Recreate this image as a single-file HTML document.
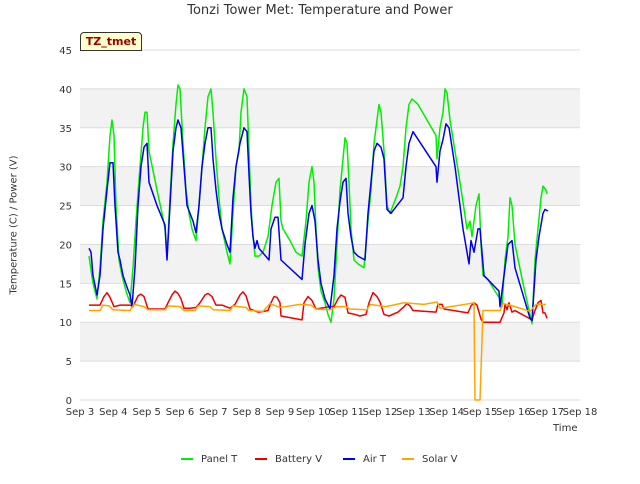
<!DOCTYPE html>
<html><head><meta charset="utf-8"><style>
body{margin:0;background:#fff;font-family:"DejaVu Sans",sans-serif}
</style></head><body>
<svg id="c" width="640" height="480" xmlns="http://www.w3.org/2000/svg" font-family="DejaVu Sans, sans-serif"></svg>
<script>
const xTicks=["Sep 3","Sep 4","Sep 5","Sep 6","Sep 7","Sep 8","Sep 9","Sep 10","Sep 11","Sep 12","Sep 13","Sep 14","Sep 15","Sep 16","Sep 17","Sep 18"];
const yTicks=[0,5,10,15,20,25,30,35,40,45];
const panelT_t=[.27,.39,.51,.6,.69,.81,.9,.96,1.02,1.08,1.17,1.26,1.38,1.5,1.59,1.68,1.8,1.89,1.95,2.01,2.07,2.31,2.46,2.55,2.61,2.7,2.79,2.88,2.94,3.0,3.09,3.18,3.27,3.36,3.48,3.57,3.66,3.75,3.84,3.93,3.99,4.08,4.17,4.26,4.41,4.5,4.59,4.68,4.77,4.83,4.92,5.01,5.07,5.13,5.19,5.25,5.37,5.49,5.64,5.76,5.88,5.97,6.03,6.09,6.3,6.48,6.66,6.78,6.87,6.96,7.02,7.08,7.14,7.23,7.35,7.44,7.53,7.62,7.71,7.8,7.89,7.95,8.01,8.07,8.13,8.22,8.34,8.52,8.64,8.73,8.82,8.91,8.97,9.03,9.12,9.21,9.3,9.48,9.6,9.69,9.78,9.87,9.96,10.14,10.68,10.71,10.8,10.89,10.95,11.01,11.1,11.4,11.61,11.7,11.76,11.88,11.97,12.03,12.09,12.24,12.45,12.6,12.66,12.75,12.84,12.9,12.96,13.05,13.29,13.5,13.56,13.65,13.74,13.83,13.89,13.98,14.01];
const panelT_v=[18.5,15,13,17,23,28,34,36,34,25,18,16,14,12.5,17,23,30,35,37,37,32,27,24,22,18.5,26,33,38,40.5,40,33,27,24,22,20.5,25,30,35,39,40,37,31,26,22,19,17.5,24,30,32,37,40,39,32,25,21,18.5,18.5,19,21,25,28,28.5,23,22,20.5,19,18.5,23,28,30,28,22,17,14,12.5,11,10,13,20,27,31,33.7,33,28,22,18,17.5,17,23,27,33,36,38,37,32,25,24,26,27.5,30,35,38,38.7,38,34,31,35,37,40,39.5,36,28,22,23,21,25,26.5,20,16,15.5,14,13,12,18,21,26,25,20,15,11,9.8,18,22,26,27.5,27,26.5];
const airT_t=[.27,.33,.39,.51,.6,.69,.81,.9,.99,1.05,1.14,1.2,1.29,1.41,1.5,1.56,1.65,1.74,1.83,1.92,2.01,2.07,2.31,2.55,2.61,2.7,2.79,2.88,2.94,3.03,3.12,3.21,3.3,3.39,3.48,3.57,3.66,3.75,3.84,3.93,3.99,4.08,4.17,4.26,4.41,4.5,4.59,4.68,4.8,4.92,5.01,5.07,5.13,5.19,5.25,5.31,5.37,5.67,5.73,5.85,5.94,6.03,6.66,6.75,6.87,6.96,7.05,7.14,7.23,7.35,7.5,7.62,7.71,7.8,7.89,7.98,8.04,8.13,8.22,8.34,8.55,8.64,8.73,8.82,8.91,9.03,9.12,9.21,9.33,9.69,9.78,9.87,9.99,10.68,10.71,10.8,10.89,10.98,11.07,11.25,11.49,11.67,11.73,11.82,11.94,12.0,12.12,12.57,12.6,12.75,12.84,12.96,13.05,13.5,13.56,13.68,13.77,13.89,13.95,14.04];
const airT_v=[19.5,19,16,13.5,16,22,27,30.5,30.5,25,19,18,16,14.5,13.5,12,17,25,30,32.5,33,28,25,22.5,18,25,32,35,36,35,30,25,24,23,21.5,25,30,33,35,35,31,27,24,22,20,19,26,30,33,35,34.5,29,24,21,19.5,20.5,19.5,18,22,23.5,23.5,18,15.5,20,24,25,23,18,15,13,11.7,16,22,25.5,28,28.5,24,21,19,18.5,18,24,28,32,33,32.5,31,24.5,24,26,30,33,34.5,30,28,32,33.5,35.5,35,30,22,17.5,20.5,19,22,22,16,14,12,17,20,20.5,17,10.5,10.2,18,21,24,24.5,24.3];
const batt_t=[.27,.6,.72,.81,.9,1.02,1.2,1.5,1.59,1.74,1.83,1.92,2.04,2.55,2.64,2.76,2.85,2.94,3.03,3.12,3.3,3.48,3.6,3.75,3.84,3.96,4.08,4.26,4.5,4.65,4.8,4.89,4.98,5.1,5.34,5.52,5.64,5.73,5.82,5.91,6.0,6.03,6.66,6.72,6.84,6.96,7.08,7.35,7.5,7.62,7.74,7.83,7.95,8.04,8.25,8.4,8.58,8.67,8.79,8.91,9.0,9.12,9.27,9.54,9.72,9.81,9.9,9.99,10.68,10.74,10.86,10.92,11.64,11.73,11.82,11.91,12.03,12.09,12.6,12.72,12.75,12.81,12.87,12.96,13.05,13.56,13.65,13.74,13.83,13.89,13.95,14.01];
const batt_v=[12.2,12.2,13.3,13.8,13.2,12,12.2,12.2,12,13.4,13.6,13.3,11.7,11.7,12.5,13.5,14,13.7,13,11.8,11.8,11.9,12.5,13.5,13.7,13.3,12.2,12.2,11.8,12.3,13.5,13.9,13.4,11.7,11.3,11.4,11.5,12.5,13.3,13.2,12.5,10.8,10.3,12.5,13.3,12.8,11.7,11.9,12,12,13,13.5,13.2,11.2,11,10.8,11,12.5,13.8,13.3,12.6,11,10.8,11.3,12,12.4,12.1,11.5,11.3,12.3,12.3,11.7,11.2,12.1,12.5,12.2,10.4,10,10,11.2,12.3,11.6,12.5,11.3,11.5,10.3,11.5,12.5,12.8,11.2,11.2,10.5];
const solar_t=[.27,.6,.69,.87,.99,1.5,1.62,1.92,2.04,2.55,2.64,3.0,3.12,3.45,3.54,3.9,3.99,4.5,4.59,4.98,5.07,5.49,5.7,6.0,6.6,6.93,7.08,7.5,7.68,7.98,8.1,8.61,8.7,9.18,9.72,10.32,10.71,10.8,11.7,11.82,11.85,12.0,12.09,12.6,12.69,12.9,13.5,13.68,13.98];
const solar_v=[11.5,11.5,12.2,12.1,11.6,11.5,12.3,12,11.6,11.6,12.1,12,11.5,11.5,12.1,12,11.6,11.5,12.1,11.9,11.5,11.4,12.4,11.9,12.3,12.2,11.7,11.6,12,12,11.7,11.6,12.3,12,12.5,12.3,12.6,11.8,12.4,12.5,0,0,11.5,11.5,12.4,12.2,11.4,12.3,12.3];

const NS="http://www.w3.org/2000/svg",svg=document.getElementById('c');
const L=80,R=580,T=50,B=400;
const X=d=>L+d*(R-L)/15, Y=v=>B-v*(B-T)/45;
function el(tag,attrs,parent){const e=document.createElementNS(NS,tag);for(const k in attrs)e.setAttribute(k,attrs[k]);(parent||svg).appendChild(e);return e;}
const bg=el('g',{});


for(let i=0;i<9;i++){
  const r=el('rect',{x:L,y:Y(yTicks[i+1]),width:R-L,height:Y(yTicks[i])-Y(yTicks[i+1]),fill:(i%2==1)?'#f2f2f2':'#ffffff'},bg);
  
  
}
yTicks.forEach(v=>{
  const g=el('line',{x1:L,x2:R,y1:Y(v),y2:Y(v),stroke:'#dcdcdc','stroke-width':1});
  
  
  const t=el('text',{x:L-8,y:Y(v)+4,'text-anchor':'end','font-size':10,fill:'#333'});
  t.textContent=v;
  
  
});
xTicks.forEach((s,i)=>{
  const t=el('text',{x:X(i),y:B+15,'text-anchor':'middle','font-size':10,fill:'#333'});
  t.textContent=s;
  
  
});
function series(ts,vs,color,name){
  const p=el('polyline',{points:ts.map((t,i)=>X(t)+','+Y(vs[i])).join(' '),fill:'none',stroke:color,'stroke-width':1.5,'stroke-linejoin':'round'});
  
  
}
series(panelT_t,panelT_v,'#00ee00','panel-t-line');
series(batt_t,batt_v,'#ee0000','battery-v-line');
series(airT_t,airT_v,'#0000ee','air-t-line');
series(solar_t,solar_v,'#ffa500','solar-v-line');
</script>
<div style="position:absolute;left:0;top:3px;width:640px;text-align:center;font-size:13px;color:#333">Tonzi Tower Met: Temperature and Power</div>
<div style="position:absolute;left:14px;top:225px;transform:translate(-50%,-50%) rotate(-90deg);font-size:10px;color:#333;white-space:nowrap">Temperature (C) / Power (V)</div>
<div style="position:absolute;left:553px;top:423px;font-size:10px;color:#333">Time</div>
<div style="position:absolute;left:80px;top:32px;width:60px;height:17px;background:#ffffcc;border:1px solid #333;border-radius:4px 4px 0 0;font-size:11px;font-weight:bold;color:#990000;text-align:center;line-height:17px">TZ_tmet</div>
<div style="position:absolute;left:0;top:454px;width:640px;font-size:10px;color:#333">
 <span style="position:absolute;left:181px"><span style="display:inline-block;width:12px;border-top:2px solid #00ee00;vertical-align:middle;margin-right:8px"></span>Panel T</span>
 <span style="position:absolute;left:255px"><span style="display:inline-block;width:12px;border-top:2px solid #ee0000;vertical-align:middle;margin-right:8px"></span>Battery V</span>
 <span style="position:absolute;left:343px"><span style="display:inline-block;width:12px;border-top:2px solid #0000ee;vertical-align:middle;margin-right:8px"></span>Air T</span>
 <span style="position:absolute;left:402px"><span style="display:inline-block;width:12px;border-top:2px solid #ffa500;vertical-align:middle;margin-right:8px"></span>Solar V</span>
</div>
</body></html>
